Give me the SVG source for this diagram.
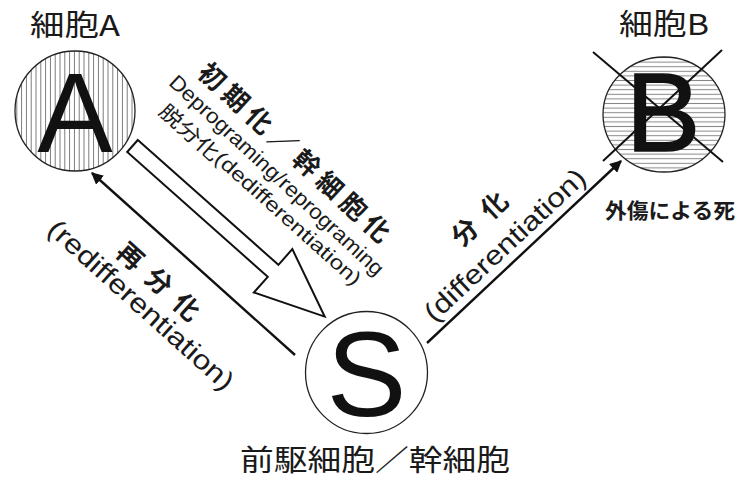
<svg xmlns="http://www.w3.org/2000/svg" width="738" height="481" viewBox="0 0 738 481">
<style>
.cjk{font-family:"Noto Sans CJK JP","Noto Sans",sans-serif;fill:#1a1a1a}
.big{font-family:"Liberation Sans",Arial,sans-serif;fill:#111;text-anchor:middle}
.lat{font-family:"Liberation Sans Narrow","Liberation Sans",Arial,sans-serif;fill:#1a1a1a;text-anchor:middle;dominant-baseline:central}
.rot{text-anchor:middle;dominant-baseline:central}
.node{stroke:#222;stroke-width:1.3}
.conn{stroke:#111;stroke-width:2.4;fill:none}
</style>
<defs>
<pattern id="vh" patternUnits="userSpaceOnUse" width="4.8" height="10">
<rect width="4.8" height="10" fill="#fff"/>
<line x1="2.4" y1="0" x2="2.4" y2="10" stroke="#777" stroke-width="1"/>
</pattern>
<pattern id="hh" patternUnits="userSpaceOnUse" width="10" height="4.6">
<rect width="10" height="4.6" fill="#fff"/>
<line x1="0" y1="2.3" x2="10" y2="2.3" stroke="#888" stroke-width="1"/>
</pattern>
<marker id="ah" viewBox="0 0 10 10" refX="9" refY="5" markerWidth="5" markerHeight="5" orient="auto" markerUnits="strokeWidth">
<path d="M0,0 L10,5 L0,10 z" fill="#111"/>
</marker>
</defs>

<g id="cellA">
<text class="cjk" x="75" y="36" font-size="29" text-anchor="middle" textLength="90" lengthAdjust="spacingAndGlyphs">細胞A</text>
<circle cx="75" cy="111" r="60" style="fill:url(#vh)" class="node"/>
<text class="big" x="75" y="152" font-size="113">A</text>
</g>

<g id="cellB">
<text class="cjk" x="664" y="35" font-size="29" text-anchor="middle" textLength="90" lengthAdjust="spacingAndGlyphs">細胞B</text>
<ellipse cx="664" cy="114.5" rx="61" ry="57.5" style="fill:url(#hh)" class="node"/>
<text class="big" x="663" y="151" font-size="112" stroke="#111" stroke-width="1.5">B</text>
<line x1="593" y1="52" x2="723" y2="162" stroke="#111" stroke-width="2"/>
<line x1="722" y1="50" x2="603" y2="161" stroke="#111" stroke-width="2"/>
<text class="cjk" x="670" y="218" font-size="21" font-weight="bold" text-anchor="middle" textLength="130" lengthAdjust="spacingAndGlyphs">外傷による死</text>
</g>

<g id="cellS">
<circle cx="366.5" cy="372.5" r="61" style="fill:#fff" class="node"/>
<text class="big" x="366.5" y="416" font-size="120">S</text>
<text class="cjk" x="375" y="471" font-size="29" text-anchor="middle" textLength="270" lengthAdjust="spacingAndGlyphs">前駆細胞／幹細胞</text>
</g>

<g id="connectors">
<g transform="translate(132.5,146) rotate(41.6)">
<polygon points="0,-8 188,-8 188,-29 257,0 188,29 188,8 0,8" fill="#fff" stroke="#111" stroke-width="2" stroke-linejoin="miter"/>
</g>
<line class="conn" x1="295" y1="355" x2="92" y2="173" marker-end="url(#ah)"/>
<line class="conn" x1="427" y1="343" x2="621" y2="161" marker-end="url(#ah)"/>
</g>

<g id="labels">
<text class="cjk rot" transform="translate(296,151) rotate(42.6)" font-size="26" font-weight="bold" textLength="250" lengthAdjust="spacing">初期化／幹細胞化</text>
<text class="lat" transform="translate(277,175) rotate(42.8)" font-size="21" textLength="284" lengthAdjust="spacingAndGlyphs">Deprograming/reprograming</text>
<text class="cjk rot" transform="translate(261,194) rotate(41.9)" font-size="20" textLength="262" lengthAdjust="spacingAndGlyphs"><tspan>脱分化</tspan><tspan font-family="Liberation Sans Narrow, Liberation Sans, sans-serif">(dedifferentiation)</tspan></text>
<text class="cjk rot" transform="translate(160,280) rotate(42)" font-size="26" font-weight="bold" textLength="102" lengthAdjust="spacing">再分化</text>
<text class="lat" transform="translate(141,305) rotate(42)" font-size="27" textLength="240" lengthAdjust="spacingAndGlyphs">(redifferentiation)</text>
<text class="cjk rot" transform="translate(478,217) rotate(-43)" font-size="26" font-weight="bold" textLength="66" lengthAdjust="spacing">分化</text>
<text class="lat" transform="translate(505,245) rotate(-43)" font-size="27" textLength="210" lengthAdjust="spacingAndGlyphs">(differentiation)</text>
</g>
</svg>
